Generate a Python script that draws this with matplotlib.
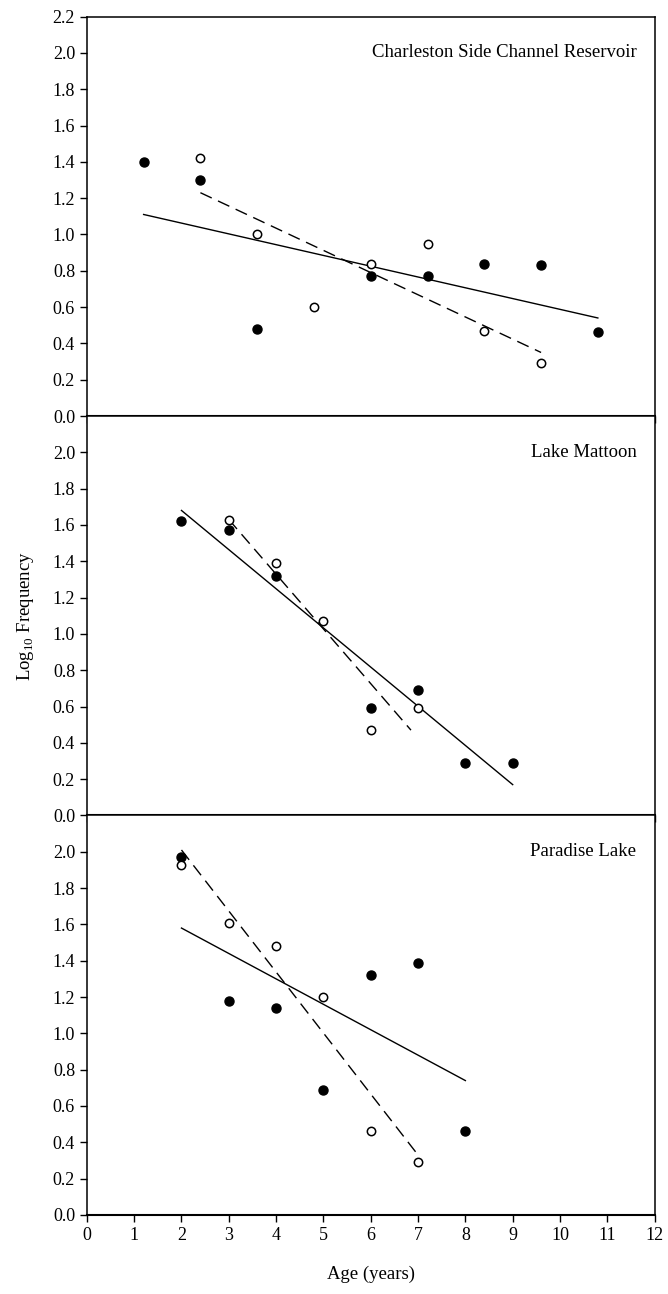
import matplotlib.pyplot as plt
import numpy as np

plt.rcParams['font.family'] = ['Liberation Serif', 'DejaVu Serif']
plt.rcParams['mathtext.fontset'] = 'custom'
plt.rcParams['mathtext.rm'] = 'Liberation Serif'

# Charleston Side Channel Reservoir (ages 1-9, own 0-10 scale)
csc_age_filled = [1, 2, 3, 5, 6, 7, 8, 9]
csc_log_filled = [1.40, 1.30, 0.48, 0.77, 0.77, 0.84, 0.83, 0.46]
csc_age_open = [2, 3, 4, 5, 6, 7, 8]
csc_log_open = [1.42, 1.00, 0.60, 0.84, 0.95, 0.47, 0.29]
csc_fit_solid_x = [1, 9]
csc_fit_solid_y = [1.11, 0.54]
csc_fit_dash_x = [2, 8]
csc_fit_dash_y = [1.23, 0.35]

# Lake Mattoon
lm_age_filled = [2, 3, 4, 6, 7, 8, 9]
lm_log_filled = [1.62, 1.57, 1.32, 0.59, 0.69, 0.29, 0.29]
lm_age_open = [3, 4, 5, 6, 7]
lm_log_open = [1.63, 1.39, 1.07, 0.47, 0.59]
lm_fit_solid_x = [2, 9]
lm_fit_solid_y = [1.68, 0.17]
lm_fit_dash_x = [3, 6.85]
lm_fit_dash_y = [1.63, 0.47]

# Paradise Lake
pl_age_filled = [2, 3, 4, 5, 6, 7, 8]
pl_log_filled = [1.97, 1.18, 1.14, 0.69, 1.32, 1.39, 0.46]
pl_age_open = [2, 3, 4, 5, 6, 7]
pl_log_open = [1.93, 1.61, 1.48, 1.20, 0.46, 0.29]
pl_fit_solid_x = [2, 8]
pl_fit_solid_y = [1.58, 0.74]
pl_fit_dash_x = [2, 7]
pl_fit_dash_y = [2.01, 0.33]

panels = [
    ("Charleston Side Channel Reservoir", (0, 10),
     csc_age_filled, csc_log_filled, csc_age_open, csc_log_open,
     csc_fit_solid_x, csc_fit_solid_y, csc_fit_dash_x, csc_fit_dash_y),
    ("Lake Mattoon", (0, 12),
     lm_age_filled, lm_log_filled, lm_age_open, lm_log_open,
     lm_fit_solid_x, lm_fit_solid_y, lm_fit_dash_x, lm_fit_dash_y),
    ("Paradise Lake", (0, 12),
     pl_age_filled, pl_log_filled, pl_age_open, pl_log_open,
     pl_fit_solid_x, pl_fit_solid_y, pl_fit_dash_x, pl_fit_dash_y),
]

fig = plt.figure(figsize=(6.68, 12.94), dpi=100)
left, width = 0.130, 0.850
height = 0.3087
bottoms = [0.0611 + 2 * height, 0.0611 + height, 0.0611]

axes = []
for i, (name, xlim, xf, yf, xo, yo, sx, sy, dx, dy) in enumerate(panels):
    ax = fig.add_axes([left, bottoms[i], width, height])
    ax.plot(sx, sy, color='black', lw=1.0)
    ax.plot(dx, dy, color='black', lw=1.0, dashes=(9, 5))
    ax.plot(xf, yf, 'o', color='black', ms=6.5, zorder=3)
    ax.plot(xo, yo, 'o', mfc='white', mec='black', mew=1.1, ms=6, zorder=3)

    ax.set_xlim(*xlim)
    ax.set_ylim(0, 2.2)
    ax.set_xticks(np.arange(xlim[0], xlim[1] + 1))
    if i == 0:
        ax.set_yticks(np.arange(0, 2.21, 0.2))
    else:
        ax.set_yticks(np.arange(0, 2.01, 0.2))
    ax.set_yticklabels([f"{v:.1f}" for v in ax.get_yticks()])
    ax.tick_params(direction='out', length=5, width=1, labelsize=13)
    if i < 2:
        ax.tick_params(axis='x', labelbottom=False)
    for sp in ax.spines.values():
        sp.set_linewidth(1.1)
    ax.spines['bottom'].set_linewidth(1.5)

    ax.text(0.968, 2.0 / 2.2, name, transform=ax.transAxes,
            ha='right', va='center', fontsize=13.5)
    axes.append(ax)

axes[2].set_xlabel("Age (years)", fontsize=13.5, labelpad=16)
axes[1].set_ylabel(r"Log$_{10}$ Frequency", fontsize=13.5, labelpad=12)

fig.savefig("out.png", dpi=100)
